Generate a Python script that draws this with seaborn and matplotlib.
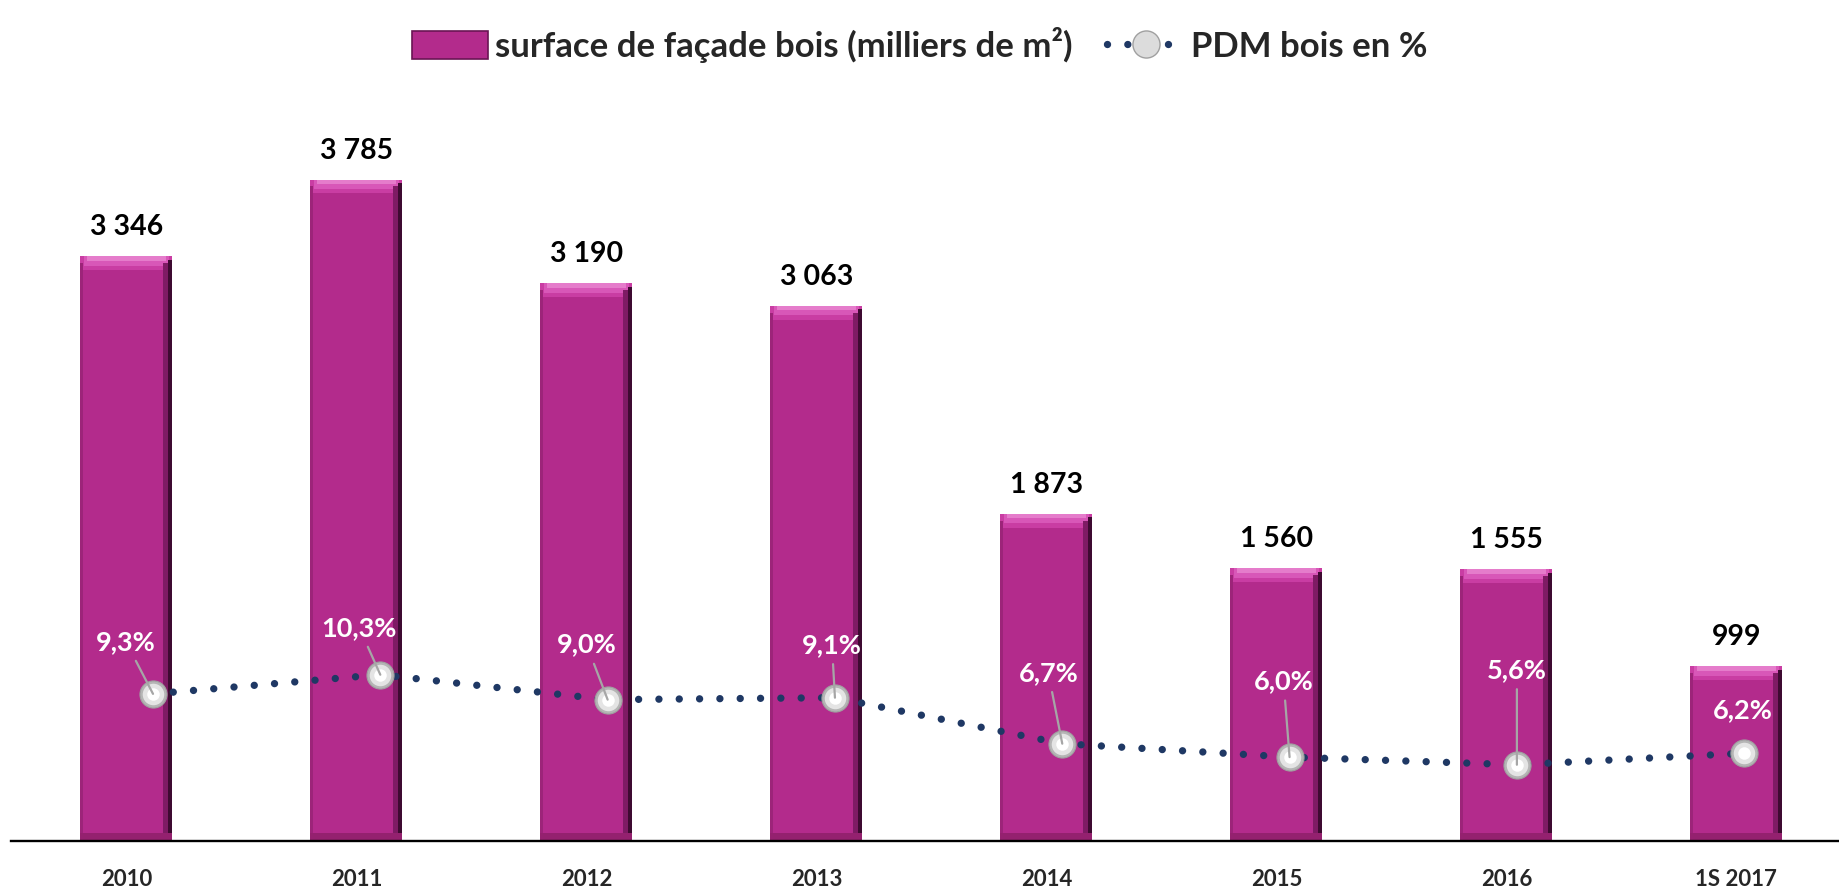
import numpy as np
import matplotlib
matplotlib.use("Agg")
import matplotlib.pyplot as plt
import seaborn as sns
from matplotlib.patches import Patch
from matplotlib.lines import Line2D

# data
categories = ["2010", "2011", "2012", "2013", "2014", "2015", "2016", "1S 2017"]
surface = [3346, 3785, 3190, 3063, 1873, 1560, 1555, 999]
pdm = [9.3, 10.3, 9.0, 9.1, 6.7, 6.0, 5.6, 6.2]
pdm_labels = ["9,3%", "10,3%", "9,0%", "9,1%", "6,7%", "6,0%", "5,6%", "6,2%"]

# label placement (pixel offsets from each point), and whether a leader line is drawn
label_dx = [-27, -21, -21, -3, -14, -6, 0, -1]
label_dy = [52, 47, 55, 53, 71, 76, 95, 43]
leader = [True, True, True, True, True, True, True, False]

bar_color = "#B32B8C"
line_color = "#1F3864"

sns.set_style("white")
plt.rcParams["font.family"] = ["Lato", "DejaVu Sans"]

fig = plt.figure(figsize=(18.39, 8.90), dpi=100)
pos = [0.00625, 0.05506, 1 - 0.00625, 0.8326]
ax = fig.add_axes(pos)

sns.barplot(x=categories, y=surface, color=bar_color, width=0.4, saturation=1,
            linewidth=0, ax=ax, zorder=2)

# bevel look: light top cap, dark right side, shaded bottom
x = np.arange(len(categories))
vals = np.array(surface)
bev = dict(linewidth=0, zorder=3)
ax.bar(x, 80, bottom=vals - 80, width=0.4, color="#C93DA3", **bev)
ax.bar(x, 55, bottom=vals - 55, width=0.37, color="#D857B8", **bev)
ax.bar(x, 25, bottom=vals - 25, width=0.34, color="#E57CCB", **bev)
ax.bar(x + 0.2 - 0.02, vals - 40, width=0.04, color="#7E1B64", **bev)
ax.bar(x + 0.2 - 0.009, vals - 20, width=0.018, color="#3E0A31", **bev)
ax.bar(x - 0.2 + 0.006, vals - 40, width=0.012, color="#9C2479", **bev)
ax.bar(x, 45, width=0.4, color="#94216F", **bev)

for i, v in enumerate(surface):
    ax.annotate(f"{v:,}".replace(",", " "), xy=(i, v), xytext=(0, 21),
                textcoords="offset pixels", ha="center", va="baseline",
                fontsize=20.5, fontweight="bold", color="black")

ax.set_xlim(-0.5, 7.446)
ax.set_ylim(0, 4240)
ax.set_yticks([])
ax.set_ylabel("")
for s in ["top", "right", "left"]:
    ax.spines[s].set_visible(False)
ax.spines["bottom"].set_color("black")
ax.spines["bottom"].set_linewidth(1.7)
ax.spines["bottom"].set_zorder(5)
ax.tick_params(axis="x", length=0, pad=20)
for lab in ax.get_xticklabels():
    lab.set_fontsize(16)
    lab.set_fontweight("bold")

# percentage line on its own axes (slightly different horizontal scale)
ax2 = fig.add_axes(pos, frameon=False)
ax2.patch.set_alpha(0)
xi = np.arange(len(pdm))
sns.lineplot(x=xi, y=pdm, ax=ax2, color=line_color, linewidth=5.3,
             linestyle=(0, (0.001, 2.76)), dash_capstyle="round", zorder=3,
             legend=False)
ax2.plot(xi, pdm, linestyle="none", marker="o", markersize=19.5,
         markerfacecolor="#B5B5B5", markeredgecolor="#A0A0A0", markeredgewidth=0.8, zorder=4)
ax2.plot(xi, pdm, linestyle="none", marker="o", markersize=15.5,
         markerfacecolor="#E4E4E4", markeredgewidth=0, zorder=4)
ax2.plot(xi, pdm, linestyle="none", marker="o", markersize=9,
         markerfacecolor="white", markeredgewidth=0, zorder=4)

for i, p in enumerate(pdm):
    arrow = dict(arrowstyle="-", color="#A6A6A6", lw=1.6, shrinkA=3, shrinkB=0) if leader[i] else None
    ax2.annotate(pdm_labels[i], xy=(i, p), xytext=(label_dx[i], label_dy[i]),
                 textcoords="offset pixels", ha="center", va="center",
                 fontsize=19.5, fontweight="bold", color="white", arrowprops=arrow, zorder=5)

ax2.set_xlim(-0.6225, 7.417)
ax2.set_ylim(1.62, 40.3)
ax2.set_xticks([])
ax2.set_yticks([])
ax2.set_xlabel("")
ax2.set_ylabel("")

# legend
h_bar = Patch(facecolor=bar_color, edgecolor="#6A1554", linewidth=1.2)
h_line = Line2D([], [], color=line_color, linewidth=5.3, linestyle=(0, (0.001, 2.76)),
                dash_capstyle="round", marker="o", markersize=19.5,
                markerfacecolor="#DCDCDC", markeredgecolor="#A0A0A0")
fig.legend([h_bar, h_line], ["surface de façade bois (milliers de m²)", "PDM bois en %"],
           loc="upper center", bbox_to_anchor=(0.5, 1.005), ncol=2, frameon=False,
           prop={"size": 25, "weight": "bold"}, handlelength=2.2, handleheight=0.85,
           handletextpad=0.2, columnspacing=1.0, numpoints=1)

fig.savefig("out.png", dpi=100)
